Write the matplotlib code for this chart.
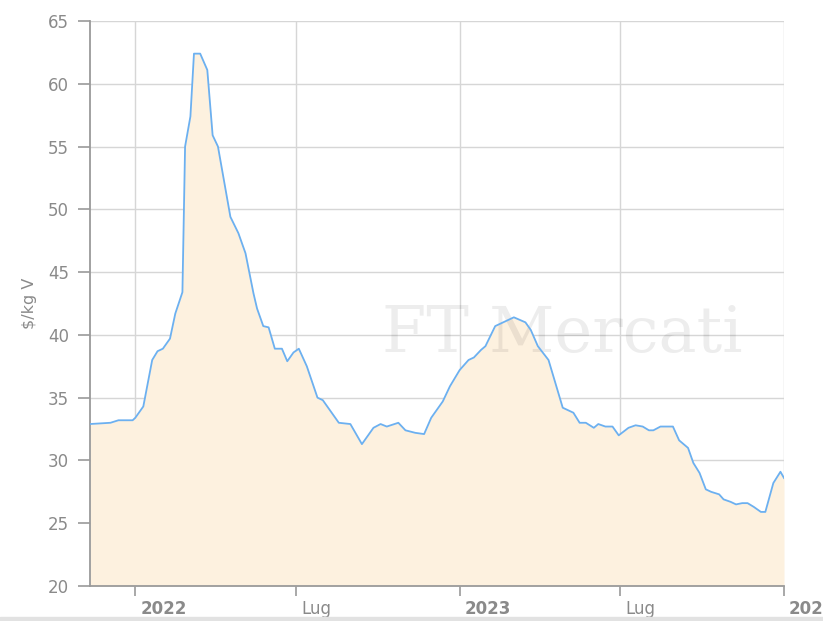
import matplotlib
matplotlib.use("Agg")
import matplotlib.pyplot as plt
import pandas as pd
from matplotlib.patches import Rectangle

# price series, $/kg V
dates = [
    "2021-11-11", "2021-12-04", "2021-12-13", "2021-12-29", "2022-01-01",
    "2022-01-10", "2022-01-20", "2022-01-26", "2022-02-01", "2022-02-09",
    "2022-02-15", "2022-02-23", "2022-02-26", "2022-03-04", "2022-03-08",
    "2022-03-15", "2022-03-23", "2022-03-29", "2022-04-04", "2022-04-18",
    "2022-04-27", "2022-05-05", "2022-05-14", "2022-05-18", "2022-05-25",
    "2022-05-31", "2022-06-07", "2022-06-15", "2022-06-21", "2022-06-28",
    "2022-07-04", "2022-07-13", "2022-07-25", "2022-07-31", "2022-08-12",
    "2022-08-18", "2022-08-31", "2022-09-13", "2022-09-26", "2022-10-04",
    "2022-10-11", "2022-10-24", "2022-11-01", "2022-11-12", "2022-11-22",
    "2022-11-30", "2022-12-13", "2022-12-21", "2023-01-01", "2023-01-11",
    "2023-01-17", "2023-01-25", "2023-01-30", "2023-02-10", "2023-02-16",
    "2023-03-03", "2023-03-16", "2023-03-22", "2023-03-30", "2023-04-11",
    "2023-04-27", "2023-05-06", "2023-05-09", "2023-05-16", "2023-05-23",
    "2023-06-01", "2023-06-06", "2023-06-14", "2023-06-22", "2023-06-29",
    "2023-07-10", "2023-07-18", "2023-07-26", "2023-08-02", "2023-08-07",
    "2023-08-15", "2023-08-29", "2023-09-05", "2023-09-15", "2023-09-21",
    "2023-09-28", "2023-10-05", "2023-10-11", "2023-10-20", "2023-10-25",
    "2023-11-02", "2023-11-08", "2023-11-15", "2023-11-21", "2023-11-28",
    "2023-12-06", "2023-12-11", "2023-12-20", "2023-12-28", "2024-01-01",
]
prices = [
    32.9, 33.0, 33.2, 33.2, 33.4,
    34.3, 38.0, 38.7, 38.9, 39.7,
    41.7, 43.4, 55.0, 57.4, 62.4,
    62.4, 61.1, 55.9, 55.0, 49.4,
    48.1, 46.5, 43.3, 42.1, 40.7,
    40.6, 38.9, 38.9, 37.9, 38.6,
    38.9, 37.5, 35.0, 34.8, 33.6,
    33.0, 32.9, 31.3, 32.6, 32.9,
    32.7, 33.0, 32.4, 32.2, 32.1,
    33.4, 34.7, 35.9, 37.2, 38.0,
    38.2, 38.8, 39.1, 40.7, 40.9,
    41.4, 41.0, 40.4, 39.1, 38.0,
    34.2, 33.9, 33.8, 33.0, 33.0,
    32.6, 32.9, 32.7, 32.7, 32.0,
    32.6, 32.8, 32.7, 32.4, 32.4,
    32.7, 32.7, 31.6, 31.0, 29.8,
    29.0, 27.7, 27.5, 27.3, 26.9,
    26.7, 26.5, 26.6, 26.6, 26.3,
    25.9, 25.9, 28.2, 29.1, 28.6,
]

x_ticks = ["2022-01-01", "2022-07-01", "2023-01-01", "2023-07-01", "2024-01-01"]
x_labels = ["2022", "Lug", "2023", "Lug", "2024"]
y_ticks = [20, 25, 30, 35, 40, 45, 50, 55, 60, 65]

when = pd.to_datetime(dates)
label_color = "#8a8a8a"

fig = plt.figure(figsize=(8.23, 6.21), dpi=100)
ax = fig.add_axes([90 / 823, 35 / 621, 694 / 823, 565 / 621])

ax.fill_between(when, prices, 20, color="#fdf1df", linewidth=0, zorder=1)
ax.plot(when, prices, color="#6cb0f0", linewidth=1.3, zorder=3)

ax.set_xlim(pd.Timestamp("2021-11-11"), pd.Timestamp("2024-01-01"))
ax.set_ylim(20, 65)
ax.set_yticks(y_ticks)
ax.set_xticks(pd.to_datetime(x_ticks))
ax.set_xticklabels(x_labels, ha="left")
for lbl, text in zip(ax.get_xticklabels(), x_labels):
    if text != "Lug":
        lbl.set_fontweight("bold")

ax.grid(True, color="#d6d6d6", linewidth=1.0, zorder=0)
ax.set_axisbelow(True)
for side in ("top", "right"):
    ax.spines[side].set_visible(False)
ax.spines["left"].set_color("#9a9a9a")
ax.spines["left"].set_linewidth(1.3)
ax.spines["bottom"].set_color("#9a9a9a")
ax.spines["bottom"].set_linewidth(1.3)

ax.tick_params(axis="y", colors="#9a9a9a", labelcolor=label_color,
               labelsize=12, length=9, width=1.2, pad=6)
ax.tick_params(axis="x", colors="#9a9a9a", labelcolor=label_color,
               labelsize=12, length=7, width=1.2, pad=3)
for lbl in ax.get_xticklabels():
    lbl.set_transform(lbl.get_transform()
                      + matplotlib.transforms.ScaledTranslation(5 / 100, 0, fig.dpi_scale_trans))

ax.set_ylabel("$/kg V", color=label_color, fontsize=11.5, labelpad=8)

# faint watermark
ax.text(0.68, 0.445, "FT Mercati", transform=ax.transAxes, family="DejaVu Serif",
        fontsize=46, color="#000000", alpha=0.07, ha="center", va="center", zorder=2)

# navigator strip along the bottom edge
fig.patches.append(Rectangle((0, 0), 1, 4 / 621, transform=fig.transFigure,
                             color="#e2e2e2", zorder=0))

fig.savefig("out.png", dpi=100)
